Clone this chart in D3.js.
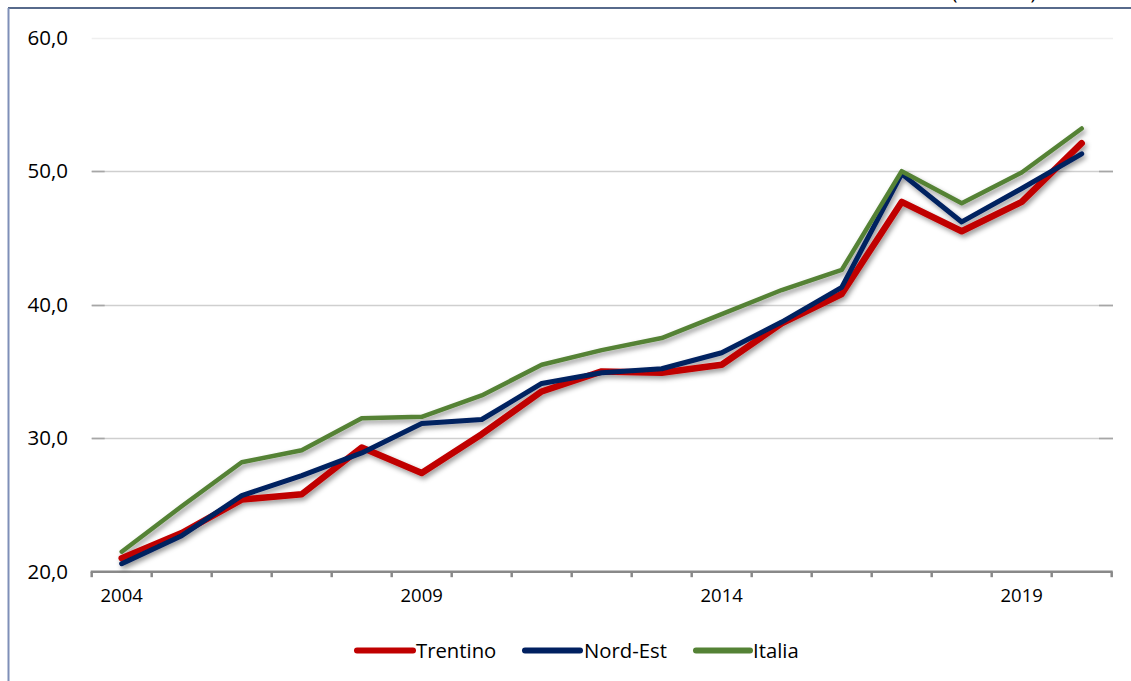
<!DOCTYPE html>
<html>
<head>
<meta charset="utf-8">
<script src="https://cdnjs.cloudflare.com/ajax/libs/d3/7.8.5/d3.min.js"></script>
<style>
  html, body { margin: 0; padding: 0; background: #fff; }
  svg { display: block; font-family: "Open Sans", "Noto Sans", sans-serif; }
</style>
</head>
<body>
<svg id="chart" width="1131" height="681"></svg>
<script>
// ---- data ----
const years = [2004, 2005, 2006, 2007, 2008, 2009, 2010, 2011, 2012, 2013, 2014, 2015, 2016, 2017, 2018, 2019, 2020];
const labeledYears = [2004, 2009, 2014, 2019];
const yTicks = [20, 30, 40, 50, 60];
const seriesNames = ["Trentino", "Nord-Est", "Italia"];
const trentino = [21.0, 22.9, 25.4, 25.8, 29.3, 27.4, 30.3, 33.5, 35.0, 34.9, 35.5, 38.6, 40.8, 47.7, 45.5, 47.7, 52.1];
const nordEst  = [20.6, 22.7, 25.7, 27.2, 28.9, 31.1, 31.4, 34.1, 34.9, 35.2, 36.4, 38.7, 41.3, 49.8, 46.2, 48.7, 51.3];
const italia   = [21.5, 24.9, 28.2, 29.1, 31.5, 31.6, 33.2, 35.5, 36.6, 37.5, 39.3, 41.1, 42.6, 50.0, 47.6, 49.9, 53.2];
const seriesColors = ["#C00000", "#002060", "#548235"];
const seriesWidths = [6.5, 5, 4.5];
const topNote = "(valori %)";

(function () {
const series = seriesNames.map((name, i) => ({
  name,
  color: seriesColors[i],
  width: seriesWidths[i],
  values: [trentino, nordEst, italia][i]
}));

// ---- layout ----
const svg = d3.select("#chart");
const pLeft = 91.7, pRight = 1111.7, pTop = 37.7, pBottom = 571.7;

const x = d3.scaleBand().domain(years).range([pLeft, pRight]).paddingInner(0).paddingOuter(0);
const y = d3.scaleLinear().domain([20, 60]).range([pBottom, pTop]);

// filter for drop shadow
const defs = svg.append("defs");
const f = defs.append("filter").attr("id", "shadow").attr("x", "-10%").attr("y", "-10%").attr("width", "120%").attr("height", "130%");
f.append("feDropShadow").attr("dx", 2).attr("dy", 3).attr("stdDeviation", 2.4)
  .attr("flood-color", "#000").attr("flood-opacity", 0.4);

// frame
svg.append("line").attr("x1", 8).attr("x2", 1131).attr("y1", 8).attr("y2", 8)
  .attr("stroke", "#1F3864").attr("stroke-width", 1.5);
svg.append("line").attr("x1", 8.5).attr("x2", 8.5).attr("y1", 8).attr("y2", 681)
  .attr("stroke", "#7F8FB8").attr("stroke-width", 2);

// cropped note at top (cut off at the top edge in the reference)
svg.append("text").attr("x", 994).attr("y", -1).attr("text-anchor", "middle")
  .attr("font-size", 20).attr("fill", "#000").text(topNote);

// gridlines
const grid = svg.append("g");
yTicks.filter(v => v > 20).forEach(v => {
  const yy = Math.round(y(v)) + 0.5;
  const isTop = v === 60;
  grid.append("line").attr("x1", pLeft).attr("x2", 1113).attr("y1", yy).attr("y2", yy)
    .attr("stroke", isTop ? "#EFEFEF" : "#CFCFCF").attr("stroke-width", 1.6);
  if (!isTop) {
    grid.append("line").attr("x1", pLeft).attr("x2", pLeft + 13).attr("y1", yy).attr("y2", yy)
      .attr("stroke", "#A6A6A6").attr("stroke-width", 1.6);
    grid.append("line").attr("x1", 1099).attr("x2", 1113).attr("y1", yy).attr("y2", yy)
      .attr("stroke", "#A6A6A6").attr("stroke-width", 1.6);
  }
});

// y axis labels
const yAxis = d3.axisLeft(y).tickValues(yTicks).tickSize(0).tickPadding(0)
  .tickFormat(d => d3.format(".1f")(d).replace(".", ","));
const gy = svg.append("g").attr("transform", `translate(68,0)`).call(yAxis);
gy.select(".domain").remove();
gy.selectAll("text").attr("font-size", 20.5).attr("fill", "#000")
  .attr("font-family", '"Open Sans", sans-serif');

// x axis line + ticks at band boundaries
const gxl = svg.append("g");
gxl.append("line").attr("x1", pLeft - 1).attr("x2", pRight + 1).attr("y1", pBottom).attr("y2", pBottom)
  .attr("stroke", "#898989").attr("stroke-width", 2.5);
const boundaries = years.map(d => x(d)).concat([x(years[years.length - 1]) + x.bandwidth()]);
gxl.selectAll("line.tk").data(boundaries).join("line").attr("class", "tk")
  .attr("x1", d => d).attr("x2", d => d).attr("y1", pBottom).attr("y2", pBottom + 5.5)
  .attr("stroke", "#898989").attr("stroke-width", 2.5);

// x labels
const xAxis = d3.axisBottom(x).tickValues(labeledYears).tickSize(0).tickPadding(17);
const gx = svg.append("g").attr("transform", `translate(0,${pBottom})`).call(xAxis);
gx.select(".domain").remove();
gx.selectAll("text").attr("font-size", 18.5).attr("fill", "#000")
  .attr("font-family", '"Open Sans", sans-serif');

// lines
const line = d3.line().x((d, i) => x(years[i]) + x.bandwidth() / 2).y(d => y(d));
const lines = svg.append("g").attr("filter", "url(#shadow)");
series.forEach(s => {
  lines.append("path").datum(s.values).attr("d", line)
    .attr("fill", "none").attr("stroke", s.color).attr("stroke-width", s.width)
    .attr("stroke-linejoin", "round").attr("stroke-linecap", "round");
});

// legend
const legendItems = [
  { x1: 357, x2: 413, tx: 416 },
  { x1: 525, x2: 580, tx: 584 },
  { x1: 696, x2: 750, tx: 753 }
];
const lg = svg.append("g");
series.forEach((s, i) => {
  const it = legendItems[i];
  lg.append("line").attr("x1", it.x1).attr("x2", it.x2).attr("y1", 650.5).attr("y2", 650.5)
    .attr("stroke", s.color).attr("stroke-width", 6).attr("stroke-linecap", "round");
  lg.append("text").attr("x", it.tx).attr("y", 657.5).attr("font-size", 20.3)
    .attr("fill", "#000").text(s.name);
});
})();
</script>
</body>
</html>
